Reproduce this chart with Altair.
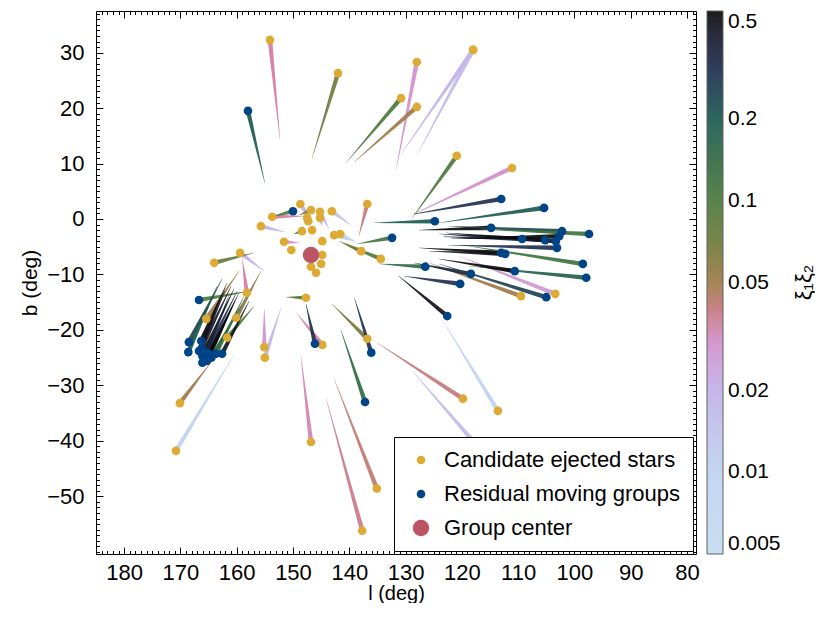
import altair as alt
import pandas as pd

FONT = "Liberation Sans"

# ---- Candidate ejected stars: position, end of back-traced trail, xi1*xi2 ----
cand_l = [154.1, 142.0, 128.0, 118.0, 118.0, 130.8, 128.0, 120.9, 111.1, 136.8,
          148.7, 153.7, 155.7, 146.8, 145.2, 143.1, 147.5, 145.2, 147.3, 148.4,
          146.6, 151.6, 150.3, 144.8, 142.7, 141.6, 144.8, 145.0, 146.8, 145.9,
          159.4, 164.0, 137.9, 134.4, 158.2, 170.1, 170.8, 155.1, 155.0, 147.7,
          144.8, 146.8, 136.8, 137.7, 135.1, 119.8, 113.6, 117.3, 165.4, 160.1,
          161.7, 109.5, 103.4]
cand_b = [32.3, 26.3, 28.3, 30.5, 30.5, 21.8, 20.2, 11.4, 9.2, 2.7,
          2.7, 0.4, -1.3, 1.6, 1.3, 1.4, 0.2, 0.2, -0.4, -2.2,
          -2.0, -4.1, -5.6, -4.0, -2.9, -2.7, -6.5, -8.1, -8.6, -9.7,
          -6.1, -7.9, -5.8, -7.2, -13.3, -33.2, -41.8, -23.1, -25.0, -14.2,
          -22.7, -40.2, -21.6, -56.2, -48.6, -32.4, -34.6, -40.9, -18.0, -17.8,
          -21.4, -13.9, -13.5]
cand_end_l = [152.3, 146.6, 131.7, 130.8, 128.0, 140.6, 139.1, 128.8, 128.5, 138.3,
              146.3, 148.0, 151.6, 148.9, 143.6, 139.7, 147.5, 144.8, 147.3, 149.8,
              146.6, 148.9, 150.3, 144.8, 139.1, 138.6, 144.8, 145.0, 146.8, 145.9,
              155.1, 156.9, 141.8, 140.9, 159.0, 164.4, 160.5, 155.1, 152.1, 151.2,
              149.4, 148.6, 143.1, 144.1, 142.7, 135.1, 123.7, 128.8, 159.6, 155.7,
              156.9, 125.8, 120.5]
cand_end_b = [14.2, 11.0, 8.8, 11.7, 11.5, 10.1, 10.3, 0.2, 0.9, -3.1,
              -0.9, 0.5, -2.3, 0.7, -1.8, -1.1, 0.2, -1.3, -0.4, -2.7,
              -2.0, -4.3, -5.6, -4.0, -4.0, -4.3, -6.5, -8.1, -8.6, -9.7,
              -9.4, -6.1, -4.0, -4.5, -7.2, -25.6, -24.5, -16.2, -15.9, -14.1,
              -16.9, -24.7, -15.3, -32.4, -28.8, -22.3, -17.8, -27.4, -9.4, -9.4,
              -15.7, -7.9, -6.7]
cand_xi = [0.035, 0.07, 0.03, 0.02, 0.017, 0.1, 0.05, 0.1, 0.03, 0.04,
           0.02, 0.035, 0.02, 0.06, 0.02, 0.015, 0.02, 0.02, 0.02, 0.1,
           0.02, 0.03, 0.02, 0.02, 0.012, 0.01, 0.02, 0.02, 0.02, 0.02,
           0.02, 0.08, 0.055, 0.09, 0.035, 0.05, 0.01, 0.03, 0.02, 0.1,
           0.035, 0.033, 0.065, 0.038, 0.042, 0.04, 0.01, 0.018, 0.05, 0.06,
           0.1, 0.05, 0.028]

# ---- Residual moving groups ----
res_l = [158.0, 150.0, 113.0, 105.4, 124.8, 132.4, 114.8, 109.3, 105.2, 103.3,
         102.2, 102.7, 103.1, 97.4, 113.0, 112.3, 98.5, 97.9, 126.5, 110.6,
         118.4, 120.3, 105.0, 122.6, 146.1, 136.1, 137.2, 166.7, 168.5, 168.6,
         166.3, 166.3, 166.1, 165.4, 164.9, 163.7, 162.6, 166.1, 165.3, 164.5,
         166.7]
res_b = [19.5, 1.4, 3.6, 2.0, -0.4, -3.4, -1.6, -3.6, -3.8, -4.0,
         -2.2, -3.1, -5.2, -2.7, -6.1, -6.3, -8.1, -10.6, -8.6, -9.4,
         -9.9, -11.7, -14.1, -17.5, -22.5, -24.1, -33.0, -14.6, -22.2, -24.0,
         -22.0, -23.4, -24.7, -24.1, -24.3, -24.3, -24.3, -25.9, -25.6, -25.0,
         -23.8]
res_end_l = [155.0, 153.9, 128.5, 124.1, 135.6, 138.6, 127.6, 124.1, 123.2, 122.8,
             122.3, 121.9, 122.3, 116.9, 127.6, 125.8, 118.7, 118.7, 134.7, 124.1,
             128.5, 130.3, 124.1, 131.2, 147.7, 139.1, 141.5, 157.8, 162.6, 163.5,
             161.7, 161.0, 160.5, 159.9, 159.6, 158.7, 157.8, 161.4, 160.3, 159.2,
             162.1]
res_end_b = [6.5, 0.4, 0.9, -0.7, -0.7, -4.5, -2.0, -2.7, -3.2, -2.5,
             -1.3, -3.6, -4.7, -1.8, -5.2, -5.8, -4.9, -8.5, -8.1, -7.2,
             -7.9, -10.3, -8.1, -10.3, -15.3, -14.2, -20.0, -13.0, -10.8, -12.1,
             -11.5, -12.1, -12.6, -13.0, -13.3, -13.9, -14.8, -13.9, -14.8, -15.7,
             -13.0]
res_xi = [0.2, 0.1, 0.3, 0.2, 0.2, 0.12, 0.5, 0.4, 0.35, 0.45,
          0.25, 0.5, 0.3, 0.12, 0.5, 0.45, 0.12, 0.18, 0.15, 0.5,
          0.35, 0.3, 0.25, 0.45, 0.3, 0.3, 0.15, 0.1, 0.25, 0.2,
          0.5, 0.4, 0.5, 0.3, 0.5, 0.12, 0.45, 0.35, 0.5, 0.15,
          0.45]

# ---- Group center ----
center_l = [146.8]
center_b = [-6.5]

kinds = ["Candidate ejected stars", "Residual moving groups", "Group center"]
kind_colors = ["#DDAA33", "#004488", "#BB5566"]
kind_sizes = [75, 75, 270]

# ---- ticks ----
x_major = list(range(80, 181, 10))
x_minor = list(range(79, 186))
y_major = list(range(-50, 31, 10))
y_minor = list(range(-60, 38))
cbar_values = [0.005, 0.01, 0.02, 0.05, 0.1, 0.2, 0.5]

# ---- colour map ----
cmap_stops = [0.005, 0.01, 0.015, 0.02, 0.025, 0.03, 0.035, 0.04, 0.045, 0.05,
              0.07, 0.1, 0.15, 0.2, 0.3, 0.4, 0.5]
cmap_colors = ["#c4dcf0", "#c0d2f0", "#bfc2ee", "#c2b2e8", "#c9a2e0", "#d190cc",
               "#d27ba2", "#c6787c", "#b47a5e", "#9f7a4a", "#6f7a3c", "#4b7a3c",
               "#2e6c44", "#1c5a50", "#1e3050", "#1b1b30", "#0a0a0a"]

# ---- build tables ----
rows = []
tid = 0
for L, B, EL, EB, XI in list(zip(cand_l, cand_b, cand_end_l, cand_end_b, cand_xi)) + \
        list(zip(res_l, res_b, res_end_l, res_end_b, res_xi)):
    if L == EL and B == EB:
        continue
    rows.append({"id": tid, "l": L, "b": B, "w": 4.6, "ord": 0, "xi": XI})
    rows.append({"id": tid, "l": EL, "b": EB, "w": 0.3, "ord": 1, "xi": XI})
    tid += 1
trail_df = pd.DataFrame(rows)

pts_df = pd.DataFrame(
    [{"l": L, "b": B, "kind": kinds[0]} for L, B in zip(cand_l, cand_b)]
    + [{"l": L, "b": B, "kind": kinds[1]} for L, B in zip(res_l, res_b)]
    + [{"l": L, "b": B, "kind": kinds[2]} for L, B in zip(center_l, center_b)]
)
center_df = pd.DataFrame({"l": center_l, "b": center_b})

xscale = alt.Scale(domain=[78.4, 185.0], reverse=True, nice=False, zero=False)
yscale = alt.Scale(domain=[-60.4, 37.5], nice=False, zero=False)

tick_common = dict(domain=False, grid=False, tickColor="black", tickWidth=1)


def major_axis(orient, vals, labels, title=None, pad=12, tpad=8, tsize=22):
    kw = dict(tick_common)
    kw.update(orient=orient, values=vals, offset=-7, tickSize=7, labels=labels)
    if labels:
        kw.update(labelFont=FONT, labelFontSize=22, labelColor="black",
                  labelPadding=pad, labelOverlap=False, labelFlush=False,
                  title=title, titleFont=FONT, titleFontSize=tsize,
                  titleFontWeight="normal", titleColor="black", titlePadding=tpad)
    else:
        kw.update(title=None)
    return alt.Axis(**kw)


def minor_axis(orient, vals):
    kw = dict(tick_common)
    kw.update(orient=orient, values=vals, offset=-3.5, tickSize=3.5,
              labels=False, title=None)
    return alt.Axis(**kw)


cbar_legend = alt.Legend(
    title=None, orient="right", offset=10, direction="vertical",
    gradientLength=543, gradientThickness=16,
    gradientStrokeColor="#555555", gradientStrokeWidth=1,
    values=cbar_values, format="~g", labelFont=FONT, labelFontSize=21,
    labelColor="black", labelOffset=5, labelOverlap=False, padding=0,
)

sym_legend = alt.Legend(
    title=None, orient="bottom-right", offset=3, padding=12,
    strokeColor="black", fillColor="white", cornerRadius=0,
    labelFont=FONT, labelFontSize=22, labelColor="black", labelOffset=12,
    labelLimit=400, rowPadding=12, symbolOffset=4, symbolStrokeWidth=0,
    symbolType="circle",
)

trails = alt.Chart(trail_df).mark_trail(opacity=0.92).encode(
    x=alt.X("l:Q", scale=xscale,
            axis=major_axis("bottom", x_major, True, "l (deg)", pad=8, tpad=0, tsize=20)),
    y=alt.Y("b:Q", scale=yscale,
            axis=major_axis("left", y_major, True, "b (deg)", pad=12, tpad=6, tsize=21)),
    detail="id:N",
    order="ord:Q",
    color=alt.Color("xi:Q", scale=alt.Scale(type="log", domain=cmap_stops,
                                             range=cmap_colors, interpolate="rgb"),
                    legend=cbar_legend),
    size=alt.Size("w:Q", scale=None, legend=None),
)

points = alt.Chart(pts_df).mark_circle(opacity=1).encode(
    x=alt.X("l:Q", scale=xscale, axis=major_axis("top", x_major, False)),
    y=alt.Y("b:Q", scale=yscale, axis=major_axis("right", y_major, False)),
    fill=alt.Fill("kind:N", scale=alt.Scale(domain=kinds, range=kind_colors),
                  legend=sym_legend),
    size=alt.Size("kind:N",
                  scale=alt.Scale(type="ordinal", domain=kinds, range=kind_sizes),
                  legend=sym_legend),
)

minor_a = alt.Chart(center_df).mark_point(opacity=0).encode(
    x=alt.X("l:Q", scale=xscale, axis=minor_axis("bottom", x_minor)),
    y=alt.Y("b:Q", scale=yscale, axis=minor_axis("left", y_minor)),
)
minor_b = alt.Chart(center_df).mark_point(opacity=0).encode(
    x=alt.X("l:Q", scale=xscale, axis=minor_axis("top", x_minor)),
    y=alt.Y("b:Q", scale=yscale, axis=minor_axis("right", y_minor)),
)

chart = alt.layer(trails, points, minor_a, minor_b).resolve_axis(
    x="independent", y="independent"
).resolve_scale(size="independent", fill="independent").properties(
    width=600, height=543,
    padding={"left": 11, "top": 2, "right": 0, "bottom": 0},
    title=alt.TitleParams("ξ₁ξ₂", orient="right", angle=270, anchor="middle",
                          baseline="top", frame="group", fontSize=22, font=FONT,
                          fontWeight="normal", color="black", offset=-9),
).configure(font=FONT).configure_view(stroke="black", strokeWidth=1)

chart.save("out.html", embed_options={"renderer": "svg", "actions": False})
